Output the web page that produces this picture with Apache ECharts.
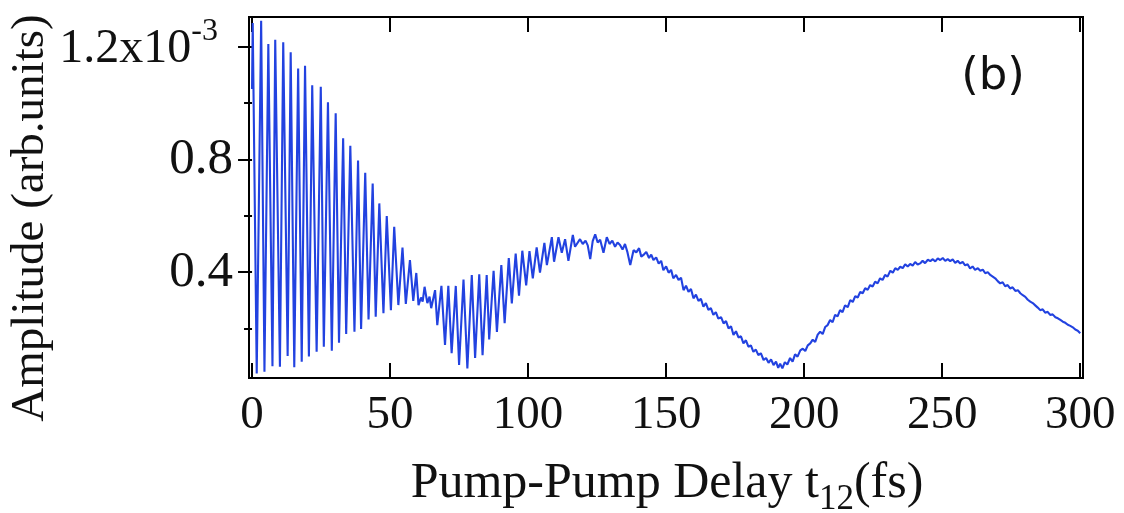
<!DOCTYPE html>
<html>
<head>
<meta charset="utf-8">
<script src="https://cdn.jsdelivr.net/npm/echarts@6/dist/echarts.min.js"></script>
<style>
html,body{margin:0;padding:0;background:#fff;}
#chart{width:1124px;height:513px;}
</style>
</head>
<body>
<div id="chart"></div>
<script>
// Delay t12 (fs) and amplitude (x10^-3 arb. units)
const segFast = [
[0,1.05],[0.25,1.285],[1.7,0.04],[3.3,1.293],[4.5,0.046],[5.9,1.21],[7.4,0.066],[8.4,1.225],[10.1,0.064],[11.3,1.216],
[12.9,0.102],[14.0,1.181],[15.3,0.062],[16.7,1.123],[18.0,0.082],[19.2,1.133],[20.6,0.10],[21.8,1.064],[23.4,0.117],[24.9,1.058],
[26.0,0.135],[27.5,1.003],[28.9,0.121],[30.3,0.964],[31.5,0.149],[33.0,0.875],[34.1,0.18],[35.6,0.849],[37.1,0.188],[38.4,0.796],
[39.5,0.198],[41.0,0.753],[42.2,0.232],[43.7,0.715],[44.8,0.242],[46.1,0.644],[47.6,0.254],[48.8,0.599],[50.3,0.265],[51.5,0.561],
[53.0,0.283],[54.5,0.487],[55.7,0.287],[57.2,0.443],[58.4,0.298],[59.5,0.397],[60.3,0.283],[61.2,0.31],[61.8,0.295],[62.5,0.348],
[63.5,0.29],[64.3,0.313],[64.9,0.272],[66.3,0.336],[67.1,0.212],[68.6,0.351],[69.9,0.141],[71.1,0.351],[72.3,0.112],[73.8,0.351],
[75.0,0.07],[76.6,0.374],[78.0,0.058],[79.6,0.39],[80.8,0.095],[82.3,0.392],[83.5,0.105],[85.0,0.39],[85.9,0.161],[87.5,0.405],
[88.7,0.188],[90.3,0.425],[91.5,0.219],[93.0,0.45],[94.1,0.289],[95.5,0.466],[96.7,0.316],[97.9,0.476],[99.3,0.353],[100.5,0.475],
[101.7,0.378],[103.1,0.488],[104.3,0.398],[105.9,0.504],[106.8,0.425],[108.6,0.524],[109.4,0.437],[111.0,0.524],[112.2,0.469],[113.4,0.517],
[114.6,0.44],[116.2,0.532]
];
const segDecay = [
[117.0,0.490],[118.8,0.517],[119.8,0.500],[120.8,0.512],[121.6,0.495],[122.5,0.446],[123.4,0.510],[124.3,0.534],[125.2,0.505],[126.1,0.515],
[127.3,0.469],[128.5,0.524],[129.5,0.500],[130.5,0.512],[131.5,0.490],[132.4,0.505],[133.3,0.496],[134.2,0.480],[135.1,0.500],[136.0,0.470],
[137.0,0.425],[138.2,0.478],[139.2,0.470],[140.2,0.485],[141.0,0.455],[141.8,0.461],[142.8,0.472],[143.8,0.450],[144.6,0.462],[145.4,0.443],
[146.4,0.452],[147.3,0.430],[148.2,0.440],[149.0,0.407],[150.0,0.420],[150.9,0.398],[151.8,0.408],[152.6,0.378],[153.6,0.390],[154.5,0.372],
[155.4,0.380],[156.3,0.336],[157.2,0.352],[158.1,0.330],[159.0,0.340],[159.9,0.307],[160.8,0.320],[161.7,0.298],[162.6,0.305],[163.5,0.277],
[164.4,0.290],[165.3,0.266],[166.2,0.272],[167.1,0.248],[168.0,0.258],[168.9,0.235],[169.9,0.240],[170.8,0.218],[171.7,0.226],[172.6,0.200],
[173.5,0.208],[174.4,0.177],[175.3,0.190],[176.2,0.168],[177.1,0.172],[178.0,0.147],[178.9,0.158],[179.8,0.135],[180.7,0.140],[181.6,0.117],
[182.5,0.125],[183.4,0.105],[184.3,0.112],[185.3,0.088],[186.2,0.095],[187.1,0.078],[188.0,0.090],[188.9,0.070],[189.8,0.082],[190.6,0.060],
[191.3,0.075],[192.1,0.058],[193.0,0.080],[193.9,0.072],[194.9,0.095],[195.8,0.082],[196.7,0.108],[197.6,0.100],[198.6,0.122]
];
const segRise = [
[199.5,0.128],[200.4,0.120],[201.3,0.140],[202.2,0.147],[203.1,0.160],[204.0,0.152],[204.9,0.178],[205.8,0.188],[206.7,0.180],[207.6,0.205],
[208.5,0.212],[209.4,0.230],[210.3,0.222],[211.2,0.248],[212.1,0.243],[213.0,0.265],[213.9,0.258],[214.8,0.282],[215.8,0.276],[216.7,0.301],
[217.6,0.294],[218.5,0.315],[219.4,0.310],[220.3,0.330],[221.2,0.325],[222.1,0.343],[223.0,0.337],[223.9,0.354],[224.8,0.349],[225.7,0.366],
[226.6,0.360],[227.5,0.378],[228.4,0.372],[229.3,0.390],[230.2,0.384],[231.2,0.405],[232.1,0.398],[233.0,0.414],[233.9,0.408],[234.8,0.419],
[235.7,0.414],[236.6,0.428],[237.5,0.420],[238.4,0.429],[239.3,0.423],[240.2,0.436],[241.1,0.427],[242.0,0.431],[242.9,0.440],[243.8,0.432],
[244.8,0.444],[245.7,0.439],[246.6,0.446],[247.5,0.438],[248.4,0.449],[249.3,0.443],[250.2,0.450],[251.1,0.440],[252.0,0.446],[252.9,0.439],
[253.8,0.445],[254.7,0.433],[255.6,0.440],[256.5,0.431],[257.4,0.436],[258.3,0.424],[259.2,0.428],[260.1,0.413],[261.0,0.420],[261.9,0.408],
[262.9,0.414],[263.8,0.405],[264.7,0.409],[265.6,0.396],[266.5,0.400],[267.4,0.390],[268.3,0.384],[269.2,0.378],[270.1,0.368],[271.0,0.360],
[271.9,0.364],[272.8,0.350],[273.7,0.354],[274.6,0.342],[275.5,0.346],[276.5,0.333],[277.4,0.336],[278.3,0.325],[279.2,0.318],[280.1,0.312],
[281.0,0.302],[281.9,0.295],[282.8,0.290],[283.7,0.282],[284.6,0.274],[285.5,0.265],[286.4,0.268],[287.3,0.256],[288.2,0.259],[289.1,0.248],
[290.0,0.250],[291.0,0.240],[291.9,0.236],[292.8,0.230],[293.7,0.224],[294.6,0.220],[295.5,0.213],[296.4,0.209],[297.3,0.204],[298.2,0.196],
[299.1,0.192],[300.0,0.183]
];
const xTicks = [0, 50, 100, 150, 200, 250, 300];
const yMajorTicks = [0.4, 0.8, 1.2];
const yMinorTicks = [0.2, 0.6, 1.0];
const xTitle = 'Pump-Pump Delay t';
const xTitleSub = '12';
const xTitleEnd = '(fs)';
const yTitle = 'Amplitude (arb.units)';
const panelLabel = '(b)';

const serif = 'Liberation Serif';
const chart = echarts.init(document.getElementById('chart'), null, {renderer: 'canvas'});
const xRange = {min: -1.1, max: 301};
const yRange = {min: 0.024, max: 1.306};

chart.setOption({
  animation: false,
  backgroundColor: '#ffffff',
  grid: {left: 249, right: 41, top: 17, bottom: 135, show: true, borderColor: '#000', borderWidth: 2, backgroundColor: 'transparent'},
  xAxis: [
    {type: 'value', position: 'bottom', min: xRange.min, max: xRange.max,
     axisLine: {show: false}, splitLine: {show: false},
     axisTick: {show: true, inside: true, length: 15, customValues: xTicks, lineStyle: {color: '#000', width: 2}},
     axisLabel: {show: true, customValues: xTicks, margin: 14, fontFamily: serif, fontSize: 47, color: '#111'}},
    {type: 'value', position: 'top', min: xRange.min, max: xRange.max,
     axisLine: {show: false}, splitLine: {show: false},
     axisTick: {show: true, inside: true, length: 15, customValues: xTicks, lineStyle: {color: '#000', width: 2}},
     axisLabel: {show: false}}
  ],
  yAxis: [
    {type: 'value', position: 'left', min: yRange.min, max: yRange.max,
     axisLine: {show: false}, splitLine: {show: false},
     axisTick: {show: true, inside: false, length: 14, customValues: yMajorTicks, lineStyle: {color: '#000', width: 2}},
     axisLabel: {show: true, customValues: yMajorTicks, margin: 16, color: '#111',
       formatter: function (v) {
         if (Math.abs(v - 1.2) < 1e-6) return '{t|1.2x10}{s|-3}';
         return '{n|' + v + '}';
       },
       rich: {
         n: {fontFamily: serif, fontSize: 51, color: '#111', verticalAlign: 'bottom'},
         t: {fontFamily: serif, fontSize: 48, color: '#111', verticalAlign: 'bottom', padding: [0, 0, 4, 0]},
         s: {fontFamily: serif, fontSize: 32, color: '#111', verticalAlign: 'bottom', padding: [0, 15, 30, 0]}
       }}},
    {type: 'value', position: 'left', min: yRange.min, max: yRange.max,
     axisLine: {show: false}, splitLine: {show: false},
     axisTick: {show: true, inside: false, length: 8, customValues: yMinorTicks, lineStyle: {color: '#000', width: 2}},
     axisLabel: {show: false}}
  ],
  graphic: [
    {type: 'text', x: 667, y: 488, style: {
      text: '{m|' + xTitle + '}{sub|' + xTitleSub + '}{m|' + xTitleEnd + '}',
      align: 'center', verticalAlign: 'middle',
      rich: {
        m: {fontFamily: serif, fontSize: 50, fill: '#111', verticalAlign: 'bottom', padding: [0, 0, 9, 0]},
        sub: {fontFamily: serif, fontSize: 35, fill: '#111', verticalAlign: 'bottom'}
      }}},
    {type: 'text', x: 31, y: 218, rotation: Math.PI / 2, style: {
      text: yTitle, fontFamily: serif, fontSize: 47, fill: '#111', align: 'center', verticalAlign: 'middle'}},
    {type: 'text', x: 993, y: 77, style: {
      text: panelLabel, fontFamily: 'DejaVu Sans', fontSize: 45, fill: '#111', align: 'center', verticalAlign: 'middle'}}
  ],
  series: [{
    type: 'line', xAxisIndex: 0, yAxisIndex: 0,
    data: segFast.concat(segDecay, segRise),
    showSymbol: false, symbol: 'none',
    lineStyle: {color: '#2242e0', width: 2.1},
    clip: true
  }]
});
</script>
</body>
</html>
